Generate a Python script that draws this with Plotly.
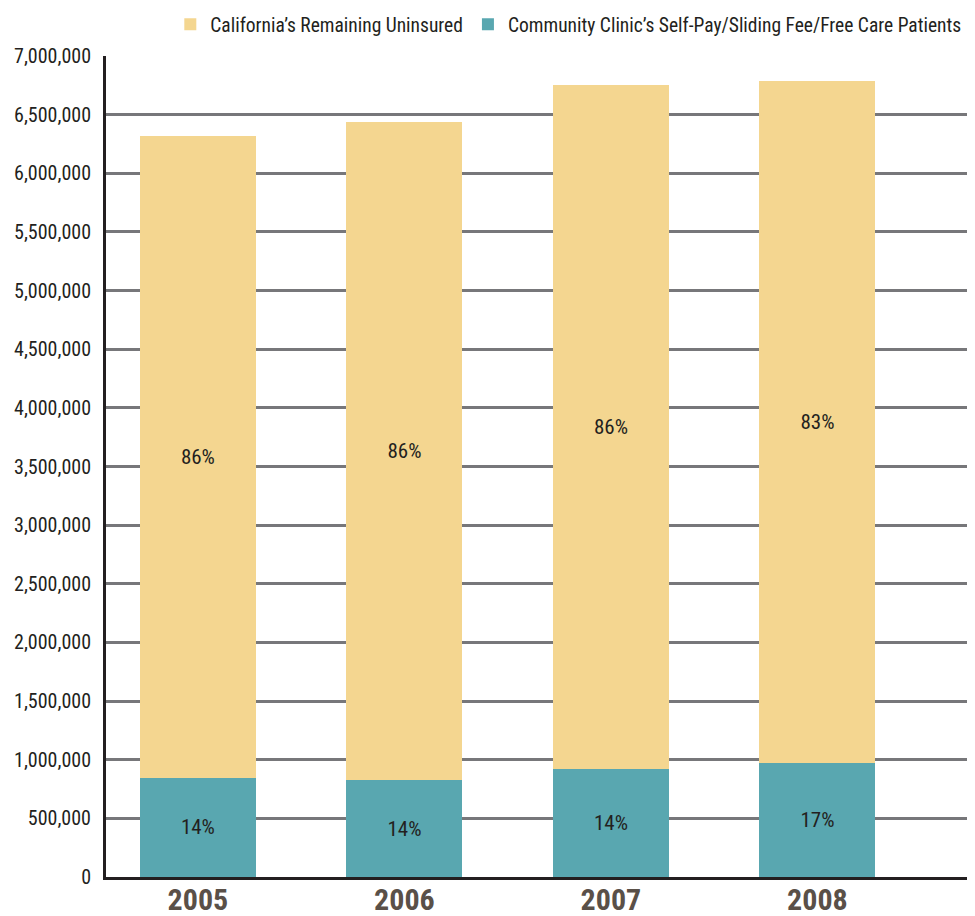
import plotly.graph_objects as go

years = ["2005", "2006", "2007", "2008"]
clinic_patients = [845000, 825000, 919000, 970000]
remaining_uninsured = [5475000, 5615000, 5836000, 5820000]
clinic_pct = ["14%", "14%", "14%", "17%"]
remaining_pct = ["86%", "86%", "86%", "83%"]
y_ticks = list(range(0, 7000001, 500000))

FONT = "Roboto Condensed, DejaVu Sans Condensed, sans-serif"
YELLOW = "#f4d690"
TEAL = "#59a7b0"
TXT = "#231f20"

fig = go.Figure()
fig.add_trace(go.Bar(
    x=years, y=clinic_patients, name="Community Clinic’s Self-Pay/Sliding Fee/Free Care Patients",
    marker=dict(color=TEAL, line=dict(width=0)), width=0.562,
    text=clinic_pct, textposition="inside", insidetextanchor="middle", textangle=0,
    constraintext="none", textfont=dict(family=FONT, size=21, color=TXT),
))
fig.add_trace(go.Bar(
    x=years, y=remaining_uninsured, name="California’s Remaining Uninsured",
    marker=dict(color=YELLOW, line=dict(width=0)), width=0.562,
    text=remaining_pct, textposition="inside", insidetextanchor="middle", textangle=0,
    constraintext="none", textfont=dict(family=FONT, size=21, color=TXT),
))

fig.update_layout(
    width=967, height=908,
    margin=dict(l=98, r=0, t=48, b=39, autoexpand=False),
    barmode="stack",
    paper_bgcolor="white", plot_bgcolor="white",
    font=dict(family=FONT, color=TXT),
    legend=dict(
        orientation="h", traceorder="reversed",
        x=0.99, xanchor="right",
        y=1.062, yanchor="top",
        font=dict(family=FONT, size=19.5, color=TXT),
        itemwidth=30, bgcolor="rgba(0,0,0,0)",
    ),
    xaxis=dict(
        type="category", range=[-0.445, 3.763],
        showgrid=False, showline=True, linecolor=TXT, linewidth=3,
        ticks="", tickfont=dict(family=FONT, size=30, color="#5a5048", weight="bold"),
        ticklabelstandoff=-6,
    ),
    yaxis=dict(
        range=[0, 7000000], tickvals=y_ticks, tickformat=",d",
        showgrid=True, gridcolor="#77777a", gridwidth=2.5,
        showline=True, linecolor=TXT, linewidth=3,
        zeroline=False, ticks="", ticklabelstandoff=8,
        tickfont=dict(family=FONT, size=20, color=TXT),
    ),
)

fig.write_html("out.html")
